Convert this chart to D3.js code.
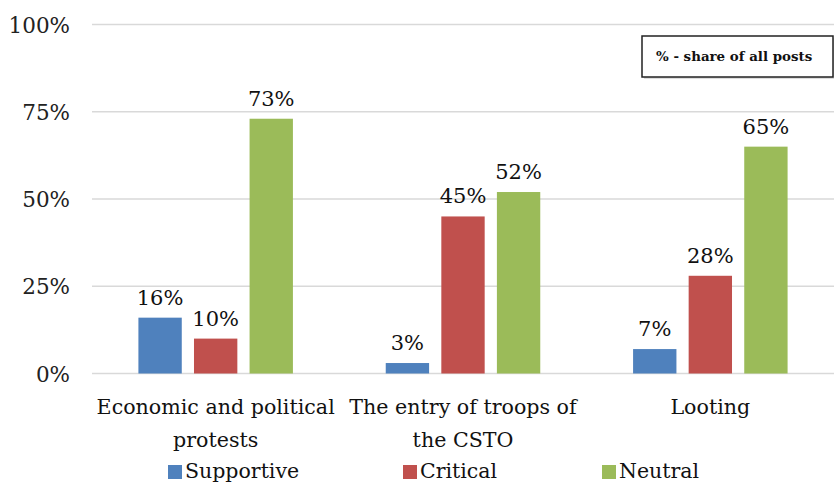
<!DOCTYPE html>
<html><head><meta charset="utf-8">
<script src="https://cdn.jsdelivr.net/npm/d3@7"></script>
</head><body style="margin:0">
<svg id="c" width="834" height="484"></svg>
<script>
const categories = [["Economic and political","protests"],["The entry of troops of","the CSTO"],["Looting"]];
const seriesNames = ["Supportive","Critical","Neutral"];
const supportive = [16,3,7];
const critical = [10,45,28];
const neutral = [73,52,65];
const yTicks = [0,25,50,75,100];
const colors = ["#4f81bd","#c0504d","#9bbb59"];
const series = [supportive, critical, neutral];

const svg = d3.select("#c");
const FONT = "DejaVu Serif";
const x0 = d3.scaleBand().domain(d3.range(categories.length)).range([92,834]).paddingInner(0).paddingOuter(0);
const y = d3.scaleLinear().domain([0,100]).range([373.5,24.5]);
const x1 = d3.scaleBand().domain(d3.range(3)).range([0,x0.bandwidth()]).paddingInner(0.22).paddingOuter(0.835);

function stext(parent, x, yy, str, size, anchor){
  return parent.append("text").attr("x",x).attr("y",yy)
    .attr("text-anchor",anchor||"middle").attr("font-family",FONT).attr("font-size",size).attr("fill","#111").text(str);
}

// gridlines
svg.append("g").selectAll("line").data(yTicks).join("line")
  .attr("x1",92).attr("x2",834).attr("y1",d=>y(d)).attr("y2",d=>y(d))
  .attr("stroke","#d9d9d9").attr("stroke-width",1.3);
svg.append("g").selectAll("text").data(yTicks).join("text")
  .attr("x",70).attr("y",d=>y(d)+8).attr("text-anchor","end")
  .attr("font-family",FONT).attr("font-size",21.5).attr("fill","#222").text(d=>d+"%");

// bars
const g = svg.append("g");
categories.forEach((c,i)=>{
  series.forEach((s,j)=>{
    const bx = x0(i)+x1(j);
    g.append("rect").attr("x",bx).attr("width",x1.bandwidth())
      .attr("y",y(s[i])).attr("height",y(0)-y(s[i])).attr("fill",colors[j]);
    stext(g, bx+x1.bandwidth()/2, y(s[i])-13, s[i]+"%", 21);
  });
  c.forEach((line,k)=>{
    stext(g, x0(i)+x0.bandwidth()/2, 414+k*33, line, 20.6);
  });
});

// legend
const legX = [168,403,602];
seriesNames.forEach((n,j)=>{
  svg.append("rect").attr("x",legX[j]).attr("y",465).attr("width",14).attr("height",14).attr("fill",colors[j]);
  stext(svg, legX[j]+17, 478, n, 20.5, "start");
});

// note box
svg.append("rect").attr("x",644).attr("y",38).attr("width",191).attr("height",41).attr("fill","#bbb").attr("opacity",0.5);
svg.append("rect").attr("x",642).attr("y",36).attr("width",191).attr("height",41).attr("fill","#fff").attr("stroke","#222").attr("stroke-width",1.5);
svg.append("text").attr("x",656).attr("y",61).attr("font-family","DejaVu Serif").attr("font-weight","bold").attr("font-size",13.4).attr("fill","#111").text("% - share of all posts");
</script>
</body></html>
